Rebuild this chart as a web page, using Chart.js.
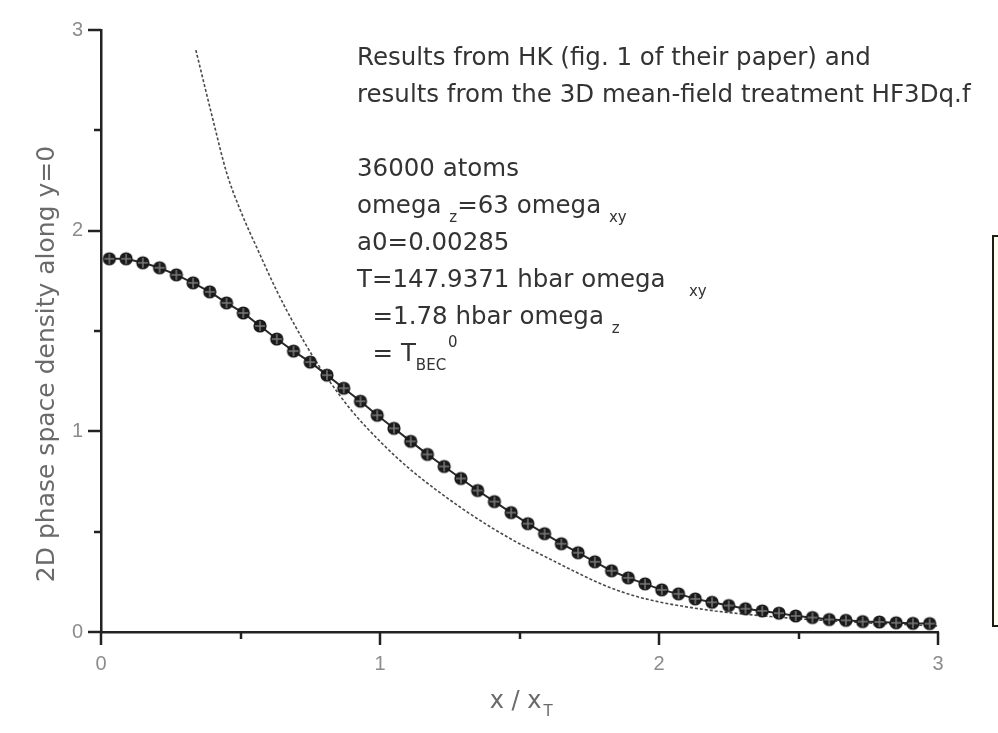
<!DOCTYPE html>
<html>
<head>
<meta charset="utf-8">
<title>2D phase space density along y=0</title>
<script src="https://cdn.jsdelivr.net/npm/chart.js@4.4.1/dist/chart.umd.min.js"></script>
<style>
  html, body { margin: 0; padding: 0; background: #ffffff; }
  #wrap { width: 998px; height: 733px; position: relative; }
</style>
</head>
<body>
<div id="wrap"><canvas id="c" width="998" height="733"></canvas></div>
<script>
// Positions x / x_T of the mean-field (HF3Dq.f) points
const hfX = [0.03, 0.09, 0.15, 0.21, 0.27, 0.33, 0.39, 0.45, 0.51, 0.57,
             0.63, 0.69, 0.75, 0.81, 0.87, 0.93, 0.99, 1.05, 1.11, 1.17,
             1.23, 1.29, 1.35, 1.41, 1.47, 1.53, 1.59, 1.65, 1.71, 1.77,
             1.83, 1.89, 1.95, 2.01, 2.07, 2.13, 2.19, 2.25, 2.31, 2.37,
             2.43, 2.49, 2.55, 2.61, 2.67, 2.73, 2.79, 2.85, 2.91, 2.97];
// 2D phase space density from the 3D mean-field treatment
const hfDensity = [1.86, 1.86, 1.84, 1.815, 1.78, 1.74, 1.695, 1.64, 1.59, 1.525,
                   1.46, 1.40, 1.345, 1.28, 1.215, 1.15, 1.08, 1.015, 0.95, 0.885,
                   0.825, 0.765, 0.705, 0.65, 0.595, 0.54, 0.49, 0.44, 0.395, 0.35,
                   0.305, 0.27, 0.24, 0.21, 0.19, 0.165, 0.148, 0.132, 0.116, 0.105,
                   0.094, 0.08, 0.072, 0.062, 0.058, 0.052, 0.05, 0.046, 0.043, 0.042];
// HK curve (fig. 1 of their paper)
const hkX = [0.34, 0.40, 0.45, 0.50, 0.57, 0.63, 0.69, 0.77, 0.85, 0.90,
             1.00, 1.10, 1.20, 1.30, 1.40, 1.50, 1.60, 1.70, 1.80, 1.90,
             2.00, 2.10, 2.20, 2.30, 2.40, 2.60, 2.80, 3.00];
const hkDensity = [2.90, 2.56, 2.29, 2.10, 1.88, 1.70, 1.54, 1.35, 1.19, 1.10,
                   0.95, 0.82, 0.71, 0.61, 0.52, 0.44, 0.37, 0.30, 0.235, 0.185,
                   0.15, 0.125, 0.105, 0.09, 0.077, 0.057, 0.042, 0.03];
// Axis ticks
const xTicks = [0, 1, 2, 3];
const yTicks = [0, 1, 2, 3];
const minorStep = 0.5;

// Annotation block: each line is a list of [text, kind] runs
const noteLines = [
  [["Results from HK (fig. 1 of their paper) and", "n"]],
  [["results from the 3D mean-field treatment HF3Dq.f", "n"]],
  [],
  [["36000 atoms", "n"]],
  [["omega ", "n"], ["z", "sub"], ["=63 omega ", "n"], ["xy", "sub"]],
  [["a0=0.00285", "n"]],
  [["T=147.9371 hbar omega   ", "n"], ["xy", "sub"]],
  [["  =1.78 hbar omega ", "n"], ["z", "sub"]],
  [["  = T", "n"], ["BEC", "sub"], ["0", "sup"]]
];
const yTitle = "2D phase space density along y=0";
const xTitleMain = "x / x";
const xTitleSub = "T";

const INK = '#222222';
const TEXT_FONT = "'DejaVu Sans', 'Liberation Sans', sans-serif";
const TICK_FONT = "'Liberation Sans Narrow', 'Liberation Sans', sans-serif";

// Marker: dark disc crossed by a lighter plus
function makeMarker() {
  const s = 16, c = document.createElement('canvas');
  c.width = s; c.height = s;
  const g = c.getContext('2d');
  g.fillStyle = '#1a1a1a';
  g.beginPath(); g.arc(s / 2, s / 2, 6.6, 0, Math.PI * 2); g.fill();
  g.strokeStyle = '#7a7a7a';
  g.lineWidth = 1.5;
  g.beginPath();
  g.moveTo(s / 2, 3); g.lineTo(s / 2, s - 3);
  g.moveTo(3, s / 2); g.lineTo(s - 3, s / 2);
  g.stroke();
  return c;
}

// Outward major/minor tick marks on both axes
const tickMarks = {
  id: 'tickMarks',
  afterDraw(chart) {
    const { ctx, scales: { x, y } } = chart;
    ctx.save();
    ctx.strokeStyle = INK;
    ctx.lineWidth = 2.5;
    ctx.lineCap = 'butt';
    for (let v = x.min; v <= x.max + 1e-9; v += minorStep) {
      const major = Math.abs(v - Math.round(v)) < 1e-9;
      const px = Math.round(x.getPixelForValue(v));
      ctx.beginPath();
      ctx.moveTo(px, y.bottom);
      ctx.lineTo(px, y.bottom + (major ? 13 : 7));
      ctx.stroke();
    }
    for (let v = y.min; v <= y.max + 1e-9; v += minorStep) {
      const major = Math.abs(v - Math.round(v)) < 1e-9;
      const py = Math.round(y.getPixelForValue(v));
      ctx.beginPath();
      ctx.moveTo(x.left, py);
      ctx.lineTo(x.left - (major ? 13 : 7), py);
      ctx.stroke();
    }
    ctx.restore();
  }
};

// Axis titles and the annotation text
const labels = {
  id: 'labels',
  afterDraw(chart) {
    const { ctx, scales: { x, y } } = chart;
    ctx.save();
    // y title
    ctx.fillStyle = '#6a6a6a';
    ctx.font = "25px " + TEXT_FONT;
    ctx.textAlign = 'center';
    ctx.textBaseline = 'middle';
    ctx.translate(47, (y.top + y.bottom) / 2 + 33);
    ctx.rotate(-Math.PI / 2);
    ctx.fillText(yTitle, 0, 0);
    ctx.setTransform(1, 0, 0, 1, 0, 0);
    // x title with subscript
    ctx.font = "24px " + TEXT_FONT;
    ctx.textAlign = 'left';
    ctx.textBaseline = 'alphabetic';
    const wMain = ctx.measureText(xTitleMain).width;
    const cx = (x.left + x.right) / 2;
    const x0 = cx - wMain / 2 - 4;
    ctx.fillText(xTitleMain, x0, 708);
    ctx.font = "15px " + TEXT_FONT;
    ctx.fillText(xTitleSub, x0 + wMain + 2, 716);
    // annotation block
    ctx.fillStyle = '#333333';
    const left = 357, top = 65, lead = 37;
    noteLines.forEach((runs, i) => {
      let px = left;
      const base = top + i * lead;
      runs.forEach(([t, kind]) => {
        if (kind === 'n') {
          ctx.font = "24.5px " + TEXT_FONT;
          ctx.fillText(t, px, base);
          px += ctx.measureText(t).width;
        } else if (kind === 'sub') {
          ctx.font = "15px " + TEXT_FONT;
          ctx.fillText(t, px, base + 9);
          px += ctx.measureText(t).width;
        } else {
          ctx.font = "15px " + TEXT_FONT;
          ctx.fillText(t, px + 2, base - 14);
          px += ctx.measureText(t).width;
        }
      });
    });
    ctx.restore();
  }
};

// Pale yellow key frame at the right edge
const keyFrame = {
  id: 'keyFrame',
  beforeDraw(chart) {
    const { ctx } = chart;
    ctx.save();
    ctx.fillStyle = '#fffff0';
    ctx.strokeStyle = '#1e1e14';
    ctx.lineWidth = 2;
    ctx.fillRect(993, 236, 10, 390);
    ctx.strokeRect(993, 236, 10, 390);
    ctx.restore();
  }
};

new Chart(document.getElementById('c'), {
  type: 'scatter',
  data: {
    datasets: [
      {
        label: 'HF3Dq.f',
        data: hfX.map((v, i) => ({ x: v, y: hfDensity[i] })),
        showLine: true,
        borderColor: '#2a2a2a',
        borderWidth: 2,
        pointStyle: makeMarker(),
        pointRadius: 8,
        pointHoverRadius: 8,
        order: 1
      },
      {
        label: 'HK',
        data: hkX.map((v, i) => ({ x: v, y: hkDensity[i] })),
        showLine: true,
        borderColor: '#4a4a4a',
        borderWidth: 1.6,
        borderDash: [3, 2],
        pointRadius: 0,
        cubicInterpolationMode: 'monotone',
        order: 2
      }
    ]
  },
  options: {
    responsive: false,
    animation: false,
    devicePixelRatio: 1,
    layout: { padding: { top: 17, right: 60, left: 0, bottom: 0 } },
    plugins: { legend: { display: false }, tooltip: { enabled: false } },
    scales: {
      x: {
        type: 'linear', min: 0, max: 3,
        afterFit(s) { s.height = 101; },
        afterBuildTicks(s) { s.ticks = xTicks.map(v => ({ value: v })); },
        grid: { drawOnChartArea: false, drawTicks: false },
        border: { display: true, color: INK, width: 2.5 },
        ticks: { color: '#8c8c8c', padding: 20, font: { size: 20, family: TICK_FONT } }
      },
      y: {
        type: 'linear', min: 0, max: 3,
        afterFit(s) { s.width = 101; },
        afterBuildTicks(s) { s.ticks = yTicks.map(v => ({ value: v })); },
        grid: { drawOnChartArea: false, drawTicks: false },
        border: { display: true, color: INK, width: 2.5 },
        ticks: { color: '#8c8c8c', padding: 18, font: { size: 20, family: TICK_FONT } }
      }
    }
  },
  plugins: [keyFrame, tickMarks, labels]
});
</script>
</body>
</html>
